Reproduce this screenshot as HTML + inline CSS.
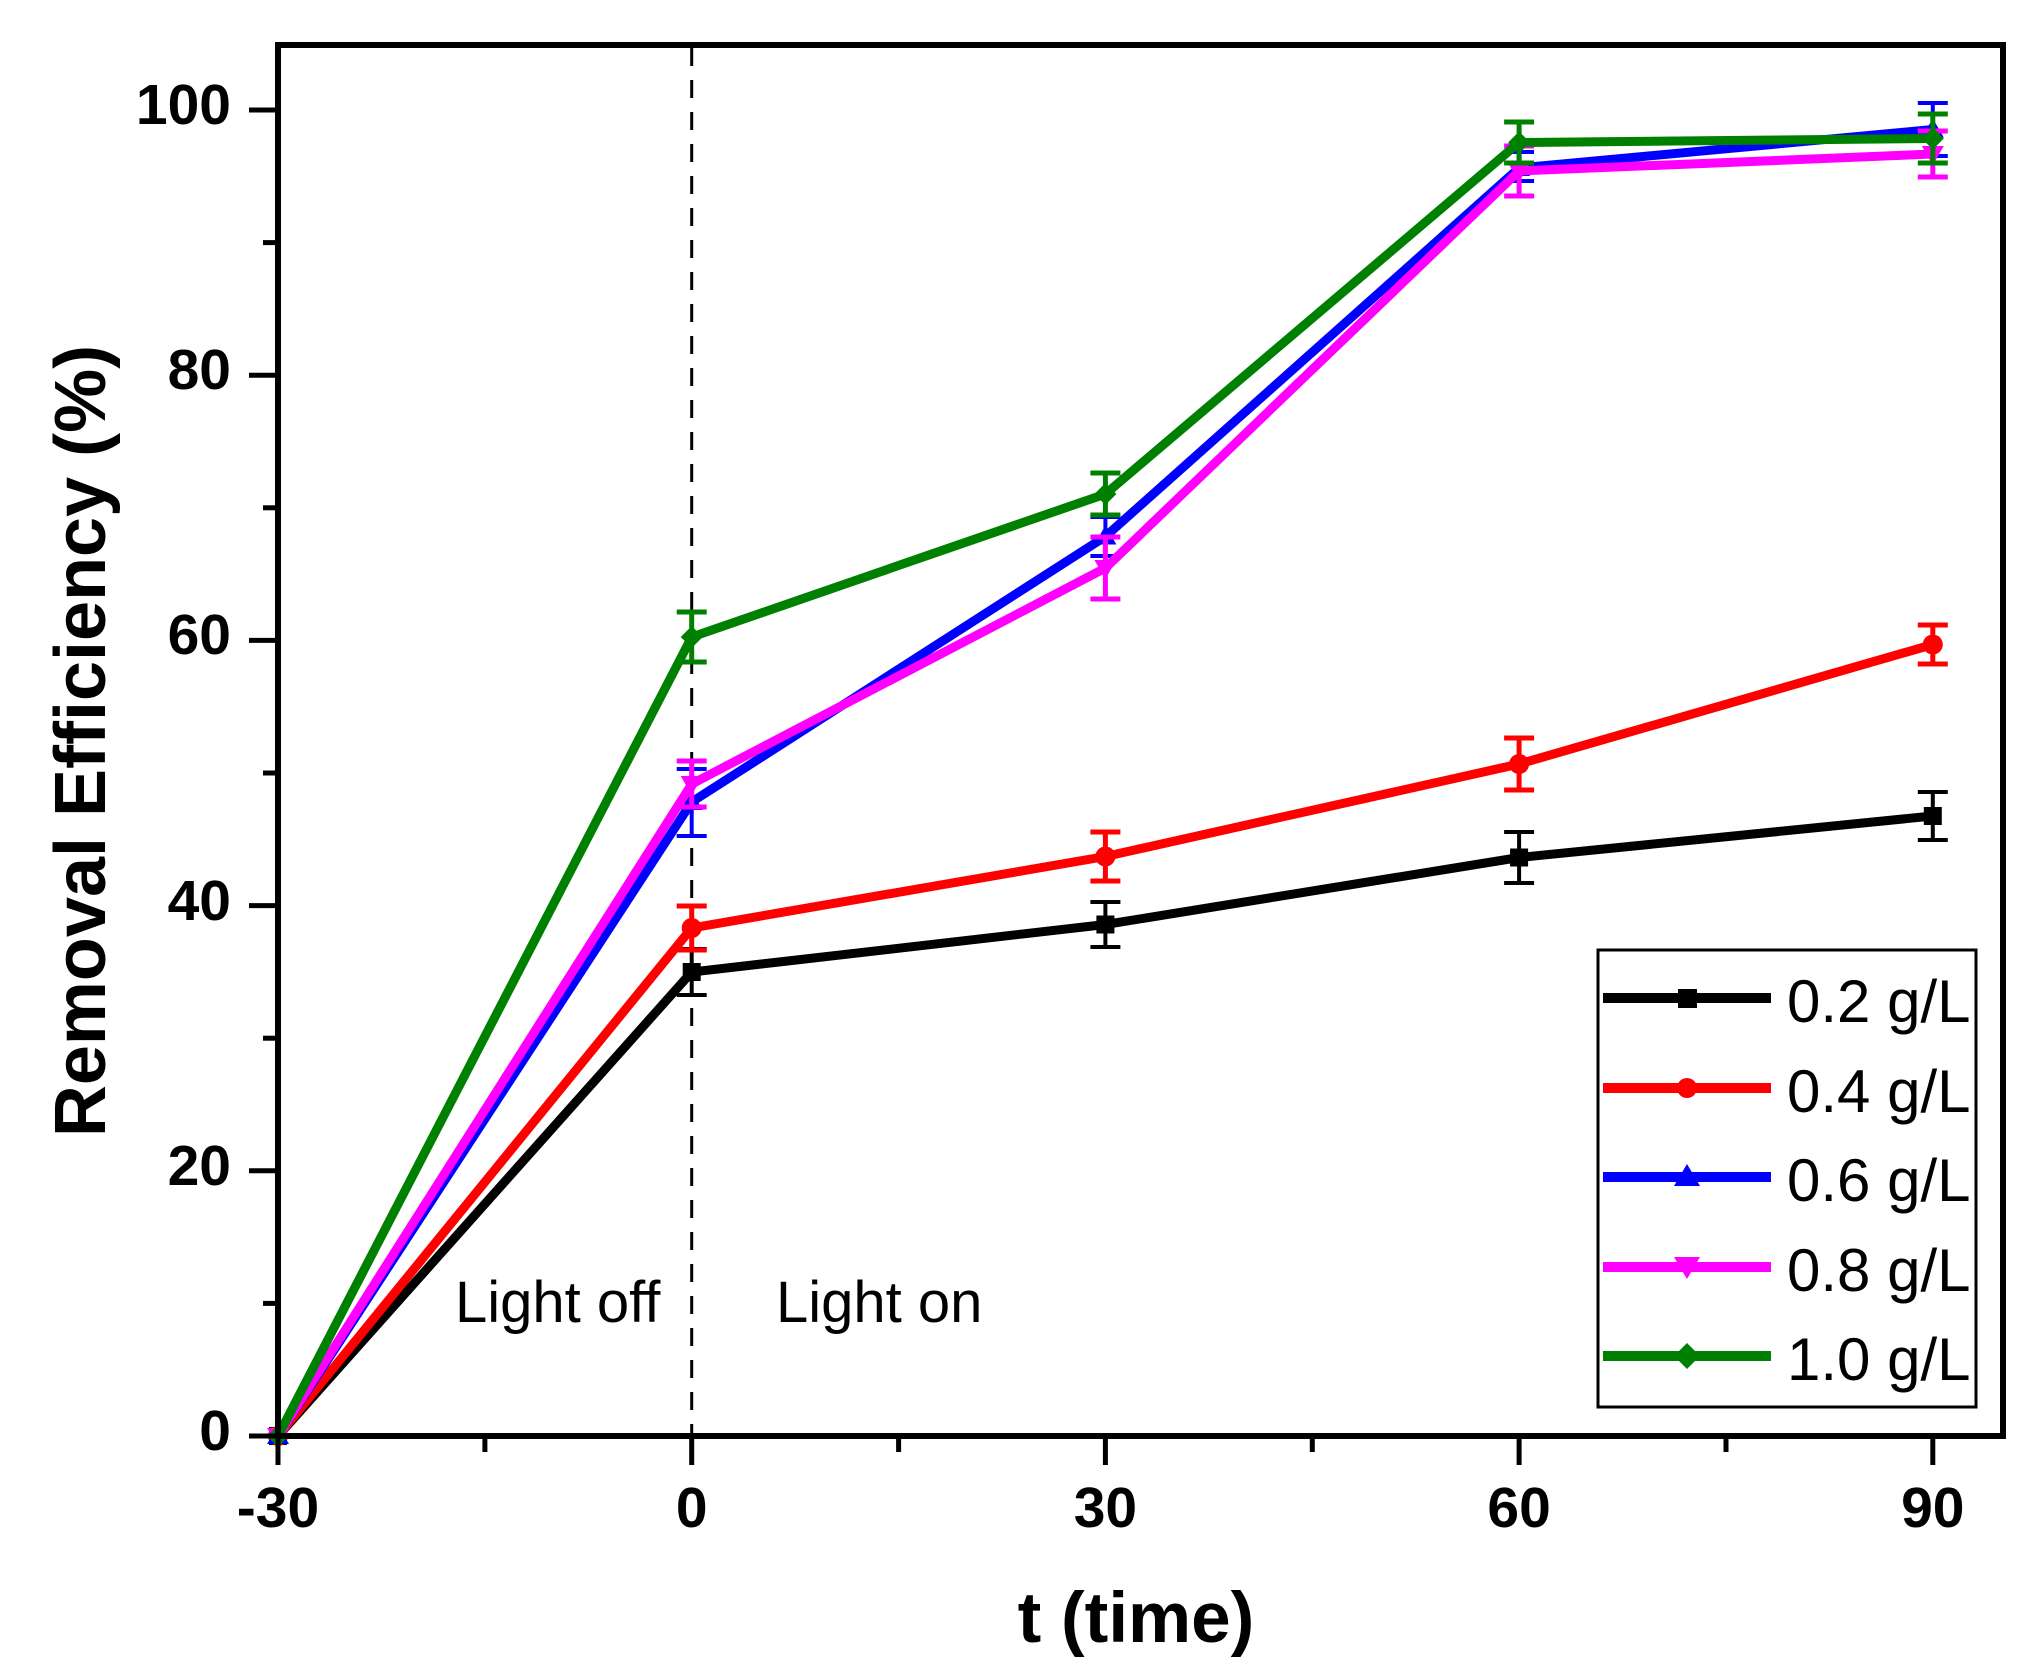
<!DOCTYPE html>
<html>
<head>
<meta charset="utf-8">
<style>
html,body{margin:0;padding:0;background:#fff;}
svg{display:block;}
text{font-family:"Liberation Sans",Arial,sans-serif;}
</style>
</head>
<body>
<svg width="2033" height="1675" viewBox="0 0 2033 1675" xmlns="http://www.w3.org/2000/svg">
<rect x="0" y="0" width="2033" height="1675" fill="#fff"/>

<!-- dashed divider at t=0 -->
<line x1="691.7" y1="48" x2="691.7" y2="1433" stroke="#000" stroke-width="3" stroke-dasharray="18 14"/>

<!-- Light off / on labels -->
<text x="455" y="1322" font-size="58">Light off</text>
<text x="776" y="1322" font-size="58">Light on</text>

<!-- Series: black 0.2 g/L -->
<g stroke="#000" fill="none">
<polyline points="278,1436 691.7,972 1105.4,924.5 1519.1,857.5 1932.8,816" stroke-width="9" stroke-linejoin="miter"/>
<g stroke-width="4">
<line x1="691.7" y1="949" x2="691.7" y2="995"/><line x1="676.7" y1="949" x2="706.7" y2="949"/><line x1="676.7" y1="995" x2="706.7" y2="995"/>
<line x1="1105.4" y1="902" x2="1105.4" y2="947"/><line x1="1090.4" y1="902" x2="1120.4" y2="902"/><line x1="1090.4" y1="947" x2="1120.4" y2="947"/>
<line x1="1519.1" y1="832" x2="1519.1" y2="883"/><line x1="1504.1" y1="832" x2="1534.1" y2="832"/><line x1="1504.1" y1="883" x2="1534.1" y2="883"/>
<line x1="1932.8" y1="792" x2="1932.8" y2="840"/><line x1="1917.8" y1="792" x2="1947.8" y2="792"/><line x1="1917.8" y1="840" x2="1947.8" y2="840"/>
</g>
</g>
<g fill="#000">
<rect x="269" y="1427" width="18" height="18"/>
<rect x="682.7" y="963" width="18" height="18"/>
<rect x="1096.4" y="915.5" width="18" height="18"/>
<rect x="1510.1" y="848.5" width="18" height="18"/>
<rect x="1923.8" y="807" width="18" height="18"/>
</g>

<!-- Series: red 0.4 g/L -->
<g stroke="#ff0000" fill="none">
<polyline points="278,1436 691.7,928 1105.4,856.5 1519.1,764 1932.8,644.5" stroke-width="9"/>
<g stroke-width="5">
<line x1="691.7" y1="906" x2="691.7" y2="950"/><line x1="676.7" y1="906" x2="706.7" y2="906"/><line x1="676.7" y1="950" x2="706.7" y2="950"/>
<line x1="1105.4" y1="832" x2="1105.4" y2="881"/><line x1="1090.4" y1="832" x2="1120.4" y2="832"/><line x1="1090.4" y1="881" x2="1120.4" y2="881"/>
<line x1="1519.1" y1="738" x2="1519.1" y2="790"/><line x1="1504.1" y1="738" x2="1534.1" y2="738"/><line x1="1504.1" y1="790" x2="1534.1" y2="790"/>
<line x1="1932.8" y1="625" x2="1932.8" y2="664"/><line x1="1917.8" y1="625" x2="1947.8" y2="625"/><line x1="1917.8" y1="664" x2="1947.8" y2="664"/>
</g>
</g>
<g fill="#ff0000">
<circle cx="278" cy="1436" r="10"/>
<circle cx="691.7" cy="928" r="10"/>
<circle cx="1105.4" cy="856.5" r="10"/>
<circle cx="1519.1" cy="764" r="10"/>
<circle cx="1932.8" cy="644.5" r="10"/>
</g>

<!-- Series: blue 0.6 g/L -->
<g stroke="#0000ff" fill="none">
<polyline points="278,1436 691.7,802 1105.4,536.5 1519.1,168 1932.8,129.5" stroke-width="9"/>
<g stroke-width="4">
<line x1="691.7" y1="769" x2="691.7" y2="836"/><line x1="676.7" y1="769" x2="706.7" y2="769"/><line x1="676.7" y1="836" x2="706.7" y2="836"/>
<line x1="1105.4" y1="517" x2="1105.4" y2="556"/><line x1="1090.4" y1="517" x2="1120.4" y2="517"/><line x1="1090.4" y1="556" x2="1120.4" y2="556"/>
<line x1="1519.1" y1="152" x2="1519.1" y2="181"/><line x1="1504.1" y1="152" x2="1534.1" y2="152"/><line x1="1504.1" y1="181" x2="1534.1" y2="181"/>
<line x1="1932.8" y1="103" x2="1932.8" y2="156"/><line x1="1917.8" y1="103" x2="1947.8" y2="103"/><line x1="1917.8" y1="156" x2="1947.8" y2="156"/>
</g>
</g>
<g fill="#0000ff">
<polygon points="278,1425 289,1444 267,1444"/>
<polygon points="691.7,791 702.7,810 680.7,810"/>
<polygon points="1105.4,525.5 1116.4,544.5 1094.4,544.5"/>
<polygon points="1519.1,157 1530.1,176 1508.1,176"/>
<polygon points="1932.8,118.5 1943.8,137.5 1921.8,137.5"/>
</g>

<!-- Series: magenta 0.8 g/L -->
<g stroke="#ff00ff" fill="none">
<polyline points="278,1436 691.7,784 1105.4,568 1519.1,171 1932.8,154" stroke-width="9"/>
<g stroke-width="5">
<line x1="691.7" y1="761" x2="691.7" y2="807"/><line x1="676.7" y1="761" x2="706.7" y2="761"/><line x1="676.7" y1="807" x2="706.7" y2="807"/>
<line x1="1105.4" y1="537" x2="1105.4" y2="599"/><line x1="1090.4" y1="537" x2="1120.4" y2="537"/><line x1="1090.4" y1="599" x2="1120.4" y2="599"/>
<line x1="1519.1" y1="146" x2="1519.1" y2="196"/><line x1="1504.1" y1="146" x2="1534.1" y2="146"/><line x1="1504.1" y1="196" x2="1534.1" y2="196"/>
<line x1="1932.8" y1="131" x2="1932.8" y2="177"/><line x1="1917.8" y1="131" x2="1947.8" y2="131"/><line x1="1917.8" y1="177" x2="1947.8" y2="177"/>
</g>
</g>
<g fill="#ff00ff">
<polygon points="267,1428 289,1428 278,1447"/>
<polygon points="680.7,776 702.7,776 691.7,795"/>
<polygon points="1094.4,560 1116.4,560 1105.4,579"/>
<polygon points="1508.1,163 1530.1,163 1519.1,182"/>
<polygon points="1921.8,146 1943.8,146 1932.8,165"/>
</g>

<!-- Series: green 1.0 g/L -->
<g stroke="#008000" fill="none">
<polyline points="278,1436 691.7,637 1105.4,494 1519.1,142.5 1932.8,138.5" stroke-width="9"/>
<g stroke-width="5">
<line x1="691.7" y1="612" x2="691.7" y2="662"/><line x1="676.7" y1="612" x2="706.7" y2="612"/><line x1="676.7" y1="662" x2="706.7" y2="662"/>
<line x1="1105.4" y1="473" x2="1105.4" y2="515"/><line x1="1090.4" y1="473" x2="1120.4" y2="473"/><line x1="1090.4" y1="515" x2="1120.4" y2="515"/>
<line x1="1519.1" y1="122" x2="1519.1" y2="163"/><line x1="1504.1" y1="122" x2="1534.1" y2="122"/><line x1="1504.1" y1="163" x2="1534.1" y2="163"/>
<line x1="1932.8" y1="114" x2="1932.8" y2="163"/><line x1="1917.8" y1="114" x2="1947.8" y2="114"/><line x1="1917.8" y1="163" x2="1947.8" y2="163"/>
</g>
</g>
<g fill="#008000">
<polygon points="278,1425 289,1436 278,1447 267,1436"/>
<polygon points="691.7,626 702.7,637 691.7,648 680.7,637"/>
<polygon points="1105.4,483 1116.4,494 1105.4,505 1094.4,494"/>
<polygon points="1519.1,131.5 1530.1,142.5 1519.1,153.5 1508.1,142.5"/>
<polygon points="1932.8,127.5 1943.8,138.5 1932.8,149.5 1921.8,138.5"/>
</g>

<!-- Frame -->
<rect x="278" y="45" width="1725" height="1391" fill="none" stroke="#000" stroke-width="6"/>

<!-- Y ticks -->
<g stroke="#000" stroke-width="5">
<line x1="249" y1="1436" x2="278" y2="1436"/>
<line x1="249" y1="1170.8" x2="278" y2="1170.8"/>
<line x1="249" y1="905.6" x2="278" y2="905.6"/>
<line x1="249" y1="640.4" x2="278" y2="640.4"/>
<line x1="249" y1="375.2" x2="278" y2="375.2"/>
<line x1="249" y1="110" x2="278" y2="110"/>
<line x1="263" y1="1303.4" x2="278" y2="1303.4"/>
<line x1="263" y1="1038.2" x2="278" y2="1038.2"/>
<line x1="263" y1="773" x2="278" y2="773"/>
<line x1="263" y1="507.8" x2="278" y2="507.8"/>
<line x1="263" y1="242.6" x2="278" y2="242.6"/>
</g>
<g font-size="57" font-weight="bold" text-anchor="end">
<text x="231" y="1450">0</text>
<text x="231" y="1185">20</text>
<text x="231" y="920">40</text>
<text x="231" y="654">60</text>
<text x="231" y="389">80</text>
<text x="231" y="124">100</text>
</g>

<!-- X ticks -->
<g stroke="#000" stroke-width="5">
<line x1="278" y1="1436" x2="278" y2="1465"/>
<line x1="691.7" y1="1436" x2="691.7" y2="1465"/>
<line x1="1105.4" y1="1436" x2="1105.4" y2="1465"/>
<line x1="1519.1" y1="1436" x2="1519.1" y2="1465"/>
<line x1="1932.8" y1="1436" x2="1932.8" y2="1465"/>
<line x1="484.9" y1="1436" x2="484.9" y2="1452"/>
<line x1="898.6" y1="1436" x2="898.6" y2="1452"/>
<line x1="1312.3" y1="1436" x2="1312.3" y2="1452"/>
<line x1="1726" y1="1436" x2="1726" y2="1452"/>
</g>
<g font-size="57" font-weight="bold" text-anchor="middle">
<text x="278" y="1527">-30</text>
<text x="691.7" y="1527">0</text>
<text x="1105.4" y="1527">30</text>
<text x="1519.1" y="1527">60</text>
<text x="1932.8" y="1527">90</text>
</g>

<!-- Axis titles -->
<text x="1136" y="1642" font-size="71" font-weight="bold" text-anchor="middle">t (time)</text>
<text transform="translate(105,741) rotate(-90)" font-size="72" font-weight="bold" text-anchor="middle">Removal Efficiency (%)</text>

<!-- Legend -->
<rect x="1598" y="950" width="378" height="457" fill="#fff" stroke="#000" stroke-width="3"/>
<g stroke-width="10">
<line x1="1603" y1="998" x2="1771" y2="998" stroke="#000"/>
<line x1="1603" y1="1088" x2="1771" y2="1088" stroke="#ff0000"/>
<line x1="1603" y1="1177" x2="1771" y2="1177" stroke="#0000ff"/>
<line x1="1603" y1="1267" x2="1771" y2="1267" stroke="#ff00ff"/>
<line x1="1603" y1="1356" x2="1771" y2="1356" stroke="#008000"/>
</g>
<rect x="1678" y="989" width="19" height="19" fill="#000"/>
<circle cx="1687" cy="1088" r="10" fill="#ff0000"/>
<polygon points="1687,1164 1700,1186 1674,1186" fill="#0000ff"/>
<polygon points="1674,1257 1700,1257 1687,1279" fill="#ff00ff"/>
<polygon points="1687,1343 1700,1356 1687,1369 1674,1356" fill="#008000"/>
<g font-size="60">
<text x="1787" y="1022">0.2 g/L</text>
<text x="1787" y="1112">0.4 g/L</text>
<text x="1787" y="1201">0.6 g/L</text>
<text x="1787" y="1291">0.8 g/L</text>
<text x="1787" y="1380">1.0 g/L</text>
</g>
</svg>
</body>
</html>
